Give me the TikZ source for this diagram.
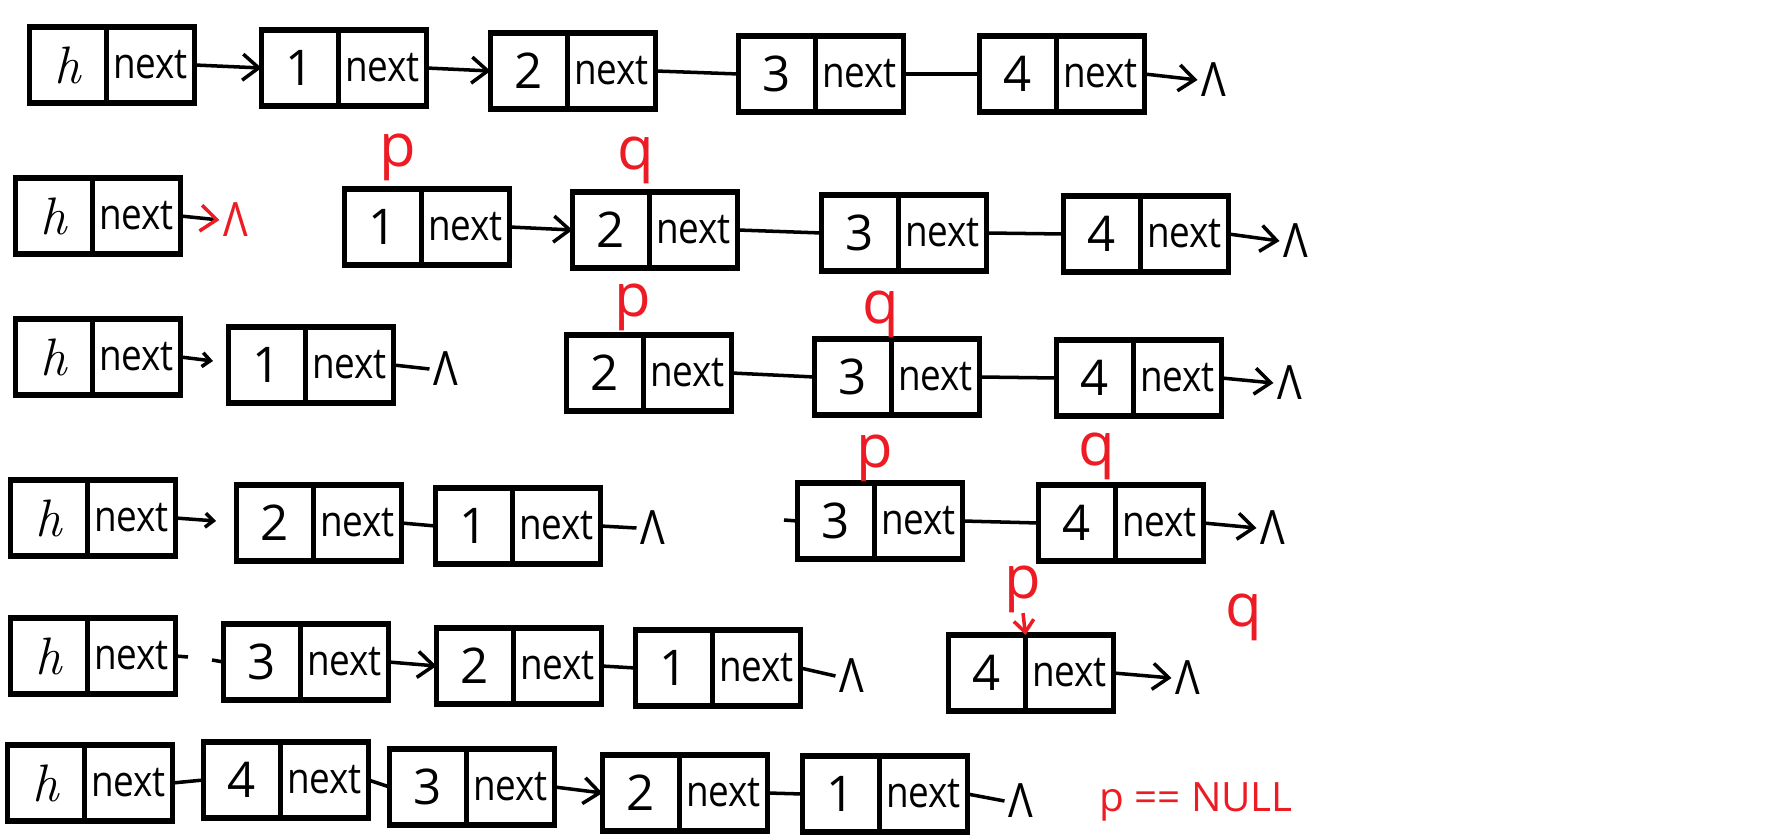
\documentclass[tikz,border=0pt]{standalone}
\usepackage{fontspec}
\usetikzlibrary{positioning, arrows.meta}
\newfontfamily\nextfont[FakeStretch=0.86]{Open Sans}
\newfontfamily\digitfont{Open Sans}
\definecolor{markRed}{RGB}{237,28,36}

\begin{document}
\begin{tikzpicture}
    \tikzset{val/.style={draw, line width=1.5pt, minimum width=0.77cm, minimum height=0.76cm, inner sep=0pt, outer sep=0pt, font=\digitfont\fontsize{14}{14}\selectfont},
             headval/.style={val, font=\rmfamily\itshape\fontsize{15}{15}\selectfont},
             nxt/.style={draw, line width=1.5pt, minimum width=0.88cm, minimum height=0.76cm, inner sep=0pt, outer sep=0pt, font=\nextfont\fontsize{12.2}{12}\selectfont},
             nul/.style={inner sep=1pt, font=\nextfont\fontsize{13.5}{14}\selectfont},
             ptr/.style={inner sep=0pt, text=markRed, font=\digitfont\fontsize{17}{17}\selectfont},
             link/.style={line width=1pt},
             arr/.style={line width=1pt, -{Straight Barb[length=1.6mm, width=2.6mm]}},
             stub/.style={line width=1pt, -{Straight Barb[length=0.8mm, width=1.4mm]}}}

    \useasboundingbox (0,0) rectangle (17.82,8.37);

    \node[headval] (head1) at (0.68,7.72) {h};
    \node[nxt, right=0pt of head1] (head1next) {next};
    \node[val] (one1) at (3.00,7.69) {1};
    \node[nxt, right=0pt of one1] (one1next) {next};
    \node[val] (two1) at (5.29,7.66) {2};
    \node[nxt, right=0pt of two1] (two1next) {next};
    \node[val] (three1) at (7.77,7.63) {3};
    \node[nxt, right=0pt of three1] (three1next) {next};
    \node[val] (four1) at (10.18,7.63) {4};
    \node[nxt, right=0pt of four1] (four1next) {next};
    \node[nul] (nul1) at (12.14,7.57) {Λ};

    \draw[arr] (head1next.east) -- (one1.west);
    \draw[arr] (one1next.east) -- (two1.west);
    \draw[link] (two1next.east) -- (three1.west);
    \draw[link] (three1next.east) -- (four1.west);
    \draw[arr] (four1next.east) -- (nul1.west);

    \node[headval] (head2) at (0.54,6.21) {h};
    \node[nxt, right=0pt of head2] (head2next) {next};
    \node[nul, text=markRed] (rednul2) at (2.36,6.17) {Λ};
    \node[val] (one2) at (3.83,6.10) {1};
    \node[nxt, right=0pt of one2] (one2next) {next};
    \node[val] (two2) at (6.11,6.07) {2};
    \node[nxt, right=0pt of two2] (two2next) {next};
    \node[val] (three2) at (8.60,6.04) {3};
    \node[nxt, right=0pt of three2] (three2next) {next};
    \node[val] (four2) at (11.02,6.03) {4};
    \node[nxt, right=0pt of four2] (four2next) {next};
    \node[nul] (nul2) at (12.96,5.96) {Λ};
    \node[ptr] (p2) at (3.98,6.80) {p};
    \node[ptr] (q2) at (6.36,6.77) {q};

    \draw[line width=1pt, -{Straight Barb[length=1.6mm, width=2.6mm, color=markRed]}] (head2next.east) -- (rednul2.west);
    \draw[arr] (one2next.east) -- (two2.west);
    \draw[link] (two2next.east) -- (three2.west);
    \draw[link] (three2next.east) -- (four2.west);
    \draw[arr] (four2next.east) -- (nul2.west);

    \node[headval] (head3) at (0.54,4.80) {h};
    \node[nxt, right=0pt of head3] (head3next) {next};
    \coordinate (tip3) at (2.13,4.76);
    \node[val] (one3) at (2.67,4.72) {1};
    \node[nxt, right=0pt of one3] (one3next) {next};
    \node[nul] (nul3a) at (4.46,4.68) {Λ};
    \node[val] (two3) at (6.05,4.64) {2};
    \node[nxt, right=0pt of two3] (two3next) {next};
    \node[val] (three3) at (8.53,4.60) {3};
    \node[nxt, right=0pt of three3] (three3next) {next};
    \node[val] (four3) at (10.95,4.59) {4};
    \node[nxt, right=0pt of four3] (four3next) {next};
    \node[nul] (nul3) at (12.90,4.54) {Λ};
    \node[ptr] (p3) at (6.33,5.30) {p};
    \node[ptr] (q3) at (8.81,5.23) {q};

    \draw[stub] (head3next.east) -- (tip3);
    \draw[link] (one3next.east) -- (nul3a.west);
    \draw[link] (two3next.east) -- (three3.west);
    \draw[link] (three3next.east) -- (four3.west);
    \draw[arr] (four3next.east) -- (nul3.west);

    \node[headval] (head4) at (0.49,3.19) {h};
    \node[nxt, right=0pt of head4] (head4next) {next};
    \coordinate (tip4) at (2.16,3.16);
    \node[val] (two4) at (2.75,3.14) {2};
    \node[nxt, right=0pt of two4] (two4next) {next};
    \node[val] (one4) at (4.74,3.11) {1};
    \node[nxt, right=0pt of one4] (one4next) {next};
    \node[nul] (nul4a) at (6.53,3.09) {Λ};
    \coordinate (cut4) at (7.84,3.17);
    \node[val] (three4) at (8.36,3.16) {3};
    \node[nxt, right=0pt of three4] (three4next) {next};
    \node[val] (four4) at (10.77,3.14) {4};
    \node[nxt, right=0pt of four4] (four4next) {next};
    \node[nul] (nul4) at (12.73,3.09) {Λ};
    \node[ptr] (p4) at (8.75,3.79) {p};
    \node[ptr] (q4) at (10.97,3.81) {q};

    \draw[stub] (head4next.east) -- (tip4);
    \draw[link] (two4next.east) -- (one4.west);
    \draw[link] (one4next.east) -- (nul4a.west);
    \draw[link] (cut4) -- (three4.west);
    \draw[link] (three4next.east) -- (four4.west);
    \draw[arr] (four4next.east) -- (nul4.west);

    \node[headval] (head5) at (0.49,1.81) {h};
    \node[nxt, right=0pt of head5] (head5next) {next};
    \coordinate (cut5a) at (1.88,1.80);
    \coordinate (cut5b) at (2.12,1.77);
    \node[val] (three5) at (2.62,1.75) {3};
    \node[nxt, right=0pt of three5] (three5next) {next};
    \node[val] (two5) at (4.75,1.71) {2};
    \node[nxt, right=0pt of two5] (two5next) {next};
    \node[val] (one5) at (6.74,1.69) {1};
    \node[nxt, right=0pt of one5] (one5next) {next};
    \node[nul] (nul5a) at (8.52,1.61) {Λ};
    \node[val] (four5) at (9.87,1.64) {4};
    \node[nxt, right=0pt of four5] (four5next) {next};
    \node[nul] (nul5) at (11.88,1.59) {Λ};
    \node[ptr] (p5) at (10.23,2.48) {p};
    \node[ptr] (q5) at (12.44,2.20) {q};

    \draw[link] (head5next.east) -- (cut5a);
    \draw[link] (cut5b) -- (three5.west);
    \draw[arr] (three5next.east) -- (two5.west);
    \draw[link] (two5next.east) -- (one5.west);
    \draw[link] (one5next.east) -- (nul5a.west);
    \draw[arr] (four5next.east) -- (nul5.west);
    \draw[line width=1pt, markRed, -{Straight Barb[length=1.2mm, width=2mm]}] (p5.south) -- (four5.north east);

    \node[headval] (head6) at (0.46,0.54) {h};
    \node[nxt, right=0pt of head6] (head6next) {next};
    \node[val] (four6) at (2.42,0.57) {4};
    \node[nxt, right=0pt of four6] (four6next) {next};
    \node[val] (three6) at (4.28,0.50) {3};
    \node[nxt, right=0pt of three6] (three6next) {next};
    \node[val] (two6) at (6.41,0.44) {2};
    \node[nxt, right=0pt of two6] (two6next) {next};
    \node[val] (one6) at (8.41,0.43) {1};
    \node[nxt, right=0pt of one6] (one6next) {next};
    \node[nul] (nul6) at (10.21,0.36) {Λ};
    \node[text=markRed, font=\digitfont\fontsize{11.5}{12}\selectfont] (stop) at (11.96,0.35) {p == NULL};

    \draw[link] (head6next.east) -- (four6.west);
    \draw[link] (four6next.east) -- (three6.west);
    \draw[arr] (three6next.east) -- (two6.west);
    \draw[link] (two6next.east) -- (one6.west);
    \draw[link] (one6next.east) -- (nul6.west);
\end{tikzpicture}
\end{document}
